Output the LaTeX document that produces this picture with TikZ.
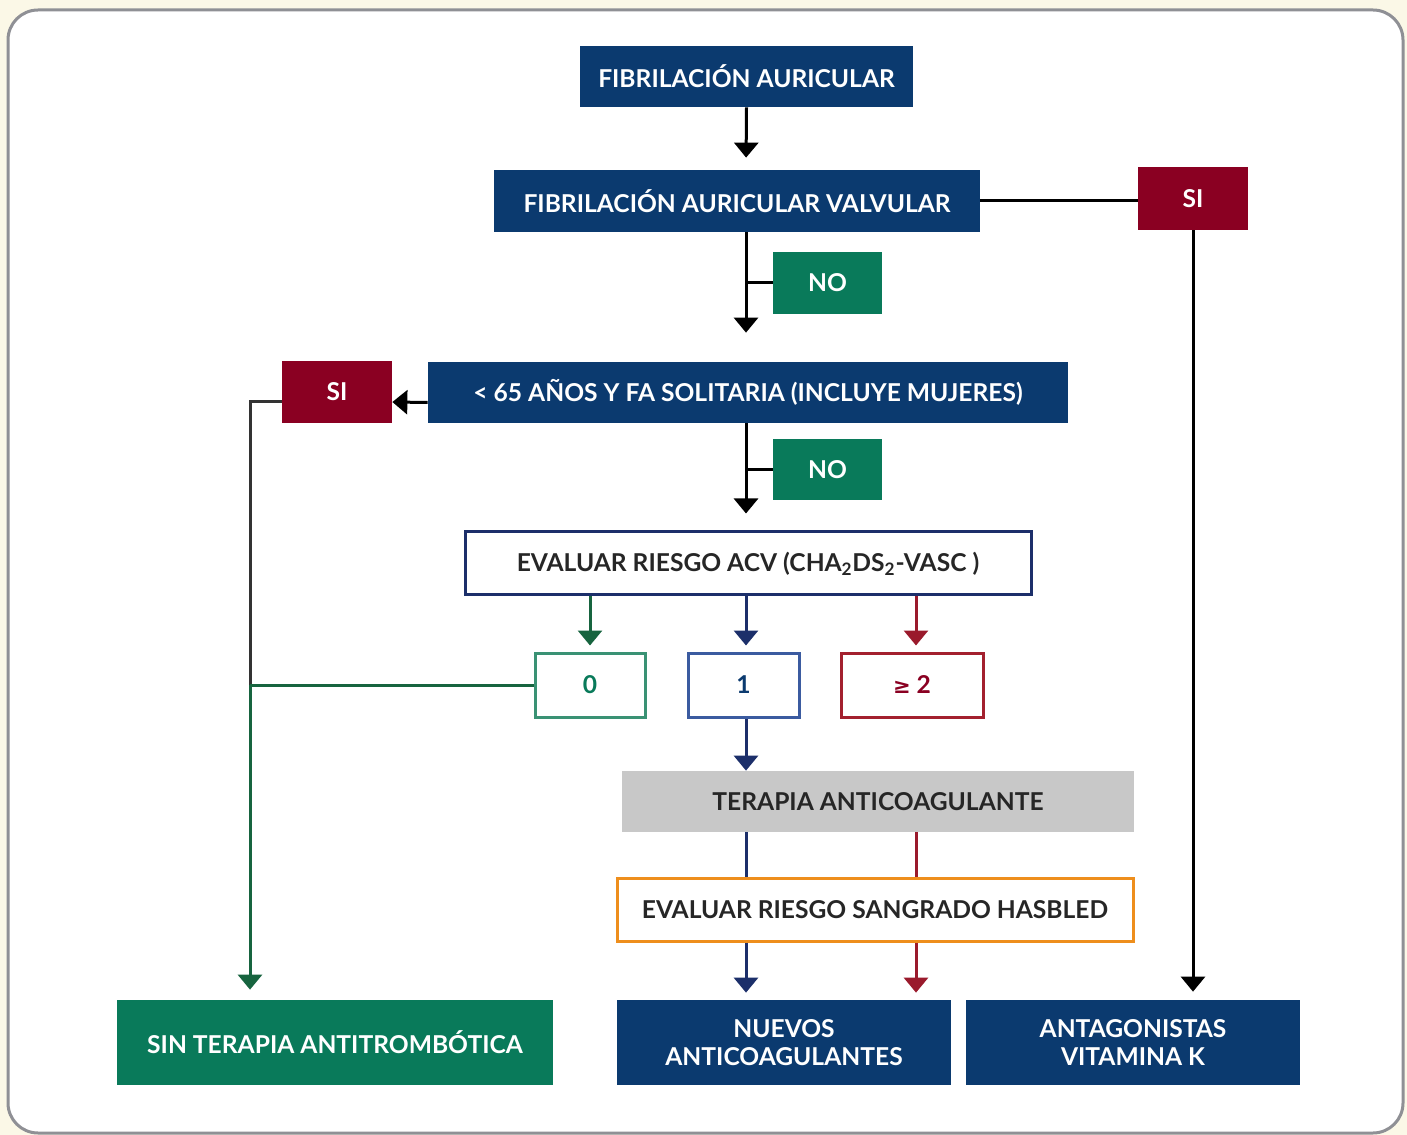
\documentclass[tikz,border=0pt]{standalone}
\usepackage{fontspec}
\setmainfont{Lato}
\newfontfamily\simbolo{DejaVu Sans}
\usepackage{xcolor}
\usepackage{tikz}
\usetikzlibrary{arrows.meta}

\definecolor{azul}{HTML}{0B3A6F}
\definecolor{rojo}{HTML}{8A0022}
\definecolor{verde}{HTML}{097A5A}
\definecolor{gris}{HTML}{C8C8C8}
\definecolor{naranja}{HTML}{EE8E1C}
\definecolor{crema}{HTML}{FBF8E7}
\definecolor{marco}{HTML}{8F9095}
\definecolor{azulflecha}{HTML}{1C2F6A}
\definecolor{rojoflecha}{HTML}{9A1A2C}
\definecolor{verdeflecha}{HTML}{17643F}
\definecolor{azulborde}{HTML}{3B5BA0}
\definecolor{verdeborde}{HTML}{3A9274}
\definecolor{rojoborde}{HTML}{A3202E}

\tikzset{
    caja/.style={rectangle, inner sep=0pt, align=center, font=\fontsize{14}{16}\selectfont\bfseries},
    llena/.style={caja, fill=#1, text=white},
    vacia/.style={caja, draw=#1, line width=0.06cm, fill=white, text=black!85},
    flecha/.style={-{Triangle[width=0.48cm,length=0.3cm]}, line width=0.06cm},
    linea/.style={line width=0.06cm}
}

\begin{document}
\begin{tikzpicture}
        \fill[crema] (0,0) rectangle (28.14,-22.70);
        \draw[marco, line width=0.06cm, fill=white, rounded corners=0.6cm] (0.16,-0.2) rectangle (28.06,-22.66);
%
        \node[llena=azul, minimum width=6.66cm, minimum height=1.22cm] (fa) at (14.93,-1.53) {FIBRILACIÓN AURICULAR};
        \node[llena=azul, minimum width=9.72cm, minimum height=1.24cm] (fav) at (14.74,-4.02) {FIBRILACIÓN AURICULAR VALVULAR};
        \node[llena=rojo, minimum width=2.2cm, minimum height=1.26cm] (si1) at (23.86,-3.97) {SI};
        \node[llena=verde, minimum width=2.18cm, minimum height=1.24cm] (no1) at (16.55,-5.66) {NO};
        \node[llena=azul, minimum width=12.8cm, minimum height=1.22cm] (edad) at (14.96,-7.85) {< 65 AÑOS Y FA SOLITARIA (INCLUYE MUJERES)};
        \node[llena=rojo, minimum width=2.2cm, minimum height=1.24cm] (si2) at (6.74,-7.84) {SI};
        \node[llena=verde, minimum width=2.18cm, minimum height=1.22cm] (no2) at (16.55,-9.39) {NO};
        \node[vacia=azulflecha, minimum width=11.32cm, minimum height=1.26cm] (acv) at (14.96,-11.27) {EVALUAR RIESGO ACV (CHA\textsubscript{2}DS\textsubscript{2}-VASC )};
        \node[vacia=verdeborde, text=verde, minimum width=2.2cm, minimum height=1.28cm] (r0) at (11.8,-13.7) {0};
        \node[vacia=azulborde, text=azul, minimum width=2.22cm, minimum height=1.28cm] (r1) at (14.87,-13.7) {1};
        \node[vacia=rojoborde, text=rojo, minimum width=2.84cm, minimum height=1.28cm] (r2) at (18.24,-13.7) {{\simbolo\fontsize{12}{14}\selectfont ≥} 2};
        \node[caja, fill=gris, text=black!85, minimum width=10.24cm, minimum height=1.22cm] (tac) at (17.56,-16.03) {TERAPIA ANTICOAGULANTE};
        \node[vacia=naranja, minimum width=10.32cm, minimum height=1.26cm] (hasbled) at (17.5,-18.19) {EVALUAR RIESGO SANGRADO HASBLED};
        \node[llena=verde, minimum width=8.72cm, minimum height=1.7cm] (sin) at (6.7,-20.85) {SIN TERAPIA ANTITROMBÓTICA};
        \node[llena=azul, minimum width=6.68cm, minimum height=1.7cm] (nuevos) at (15.68,-20.85) {NUEVOS\\ANTICOAGULANTES};
        \node[llena=azul, minimum width=6.68cm, minimum height=1.7cm] (antag) at (22.66,-20.85) {ANTAGONISTAS\\VITAMINA K};
%
        \coordinate (eje) at (14.92,0);
        \coordinate (eje2) at (18.32,0);
        \coordinate (izq) at (5.0,0);
        \coordinate (codo) at ([yshift=-0.2cm]si2.west);
%
        \path[flecha, black]
        (fa.south) edge[shorten >=0.24cm] (eje |- fav.north)
        (eje |- fav.south) edge[shorten >=0.58cm] (eje |- edad.north)
        (eje |- edad.south) edge[shorten >=0.34cm] (eje |- acv.north)
        ([yshift=-0.2cm]edad.west) edge ([yshift=-0.2cm]si2.east)
        (si1.south) edge[shorten >=0.16cm] (si1.south |- antag.north);
        \draw[linea, black] (fav.east) -- (fav.east -| si1.west);
        \draw[linea, black] (no1.west) -- (eje |- no1.west);
        \draw[linea, black] (no2.west) -- (eje |- no2.west);
        \draw[linea, black!80] (codo) -- (izq |- codo) -- (izq |- r0.west);
%
        \path[flecha]
        (r0.north |- acv.south) edge[verdeflecha, shorten >=0.12cm] (r0.north)
        (eje |- acv.south) edge[azulflecha, shorten >=0.12cm] (eje |- r1.north)
        (eje2 |- acv.south) edge[rojoflecha, shorten >=0.12cm] (eje2 |- r2.north)
        (eje |- r1.south) edge[azulflecha] (eje |- tac.north)
        (eje |- hasbled.south) edge[azulflecha, shorten >=0.14cm] (eje |- nuevos.north)
        (eje2 |- hasbled.south) edge[rojoflecha, shorten >=0.14cm] (eje2 |- nuevos.north)
        (izq |- r0.west) edge[verdeflecha, shorten >=0.2cm] (izq |- sin.north);
        \draw[linea, verdeflecha] (r0.west) -- (izq |- r0.west);
        \draw[linea, azulflecha] (eje |- tac.south) -- (eje |- hasbled.north);
        \draw[linea, rojoflecha] (eje2 |- tac.south) -- (eje2 |- hasbled.north);
\end{tikzpicture}
\end{document}
